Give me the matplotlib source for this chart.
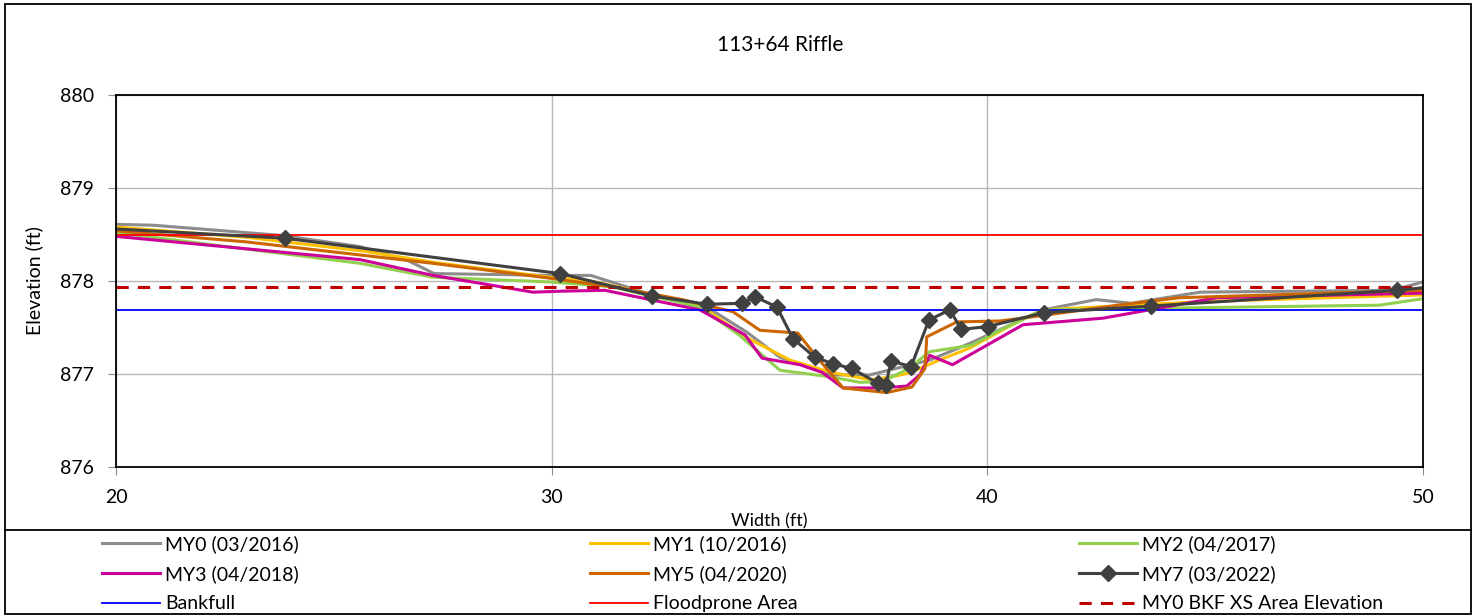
import matplotlib.pyplot as plt
from matplotlib.lines import Line2D
from matplotlib.patches import Rectangle

plt.rcParams['font.family'] = ['Lato', 'DejaVu Sans']

# survey data (station, elevation)
my0_x = [19, 20.85, 23.8, 25.6, 26.7, 27.3, 30.0, 30.9, 32.3, 33.56, 34.48, 35.24, 36.39, 37.3, 38.68, 39.6, 41.28, 42.5, 43.3, 44.88, 49.3, 50]
my0_y = [878.62, 878.60, 878.49, 878.37, 878.22, 878.08, 878.06, 878.06, 877.85, 877.72, 877.45, 877.18, 876.99, 876.99, 877.15, 877.33, 877.69, 877.80, 877.76, 877.88, 877.90, 877.99]

my1_x = [19, 20, 23, 25.7, 27.3, 29.96, 30.9, 33.4, 34.48, 35.47, 36.39, 37.3, 37.7, 38.2, 38.9, 39.6, 40.45, 40.9, 41.28, 45.0, 50]
my1_y = [878.60, 878.58, 878.47, 878.32, 878.20, 878.04, 878.00, 877.74, 877.39, 877.15, 877.02, 876.94, 876.96, 877.01, 877.15, 877.28, 877.50, 877.61, 877.69, 877.78, 877.85]

my2_x = [19, 20, 25.6, 27.28, 29.96, 31.34, 33.4, 34.3, 35.24, 36.39, 37.08, 37.6, 38.2, 38.68, 39.65, 40.29, 41.28, 49.0, 50]
my2_y = [878.54, 878.52, 878.19, 878.04, 877.99, 877.94, 877.72, 877.42, 877.04, 876.97, 876.91, 876.92, 877.06, 877.24, 877.31, 877.47, 877.69, 877.74, 877.81]

my3_x = [19, 20, 25.6, 27.28, 29.57, 30.19, 31.22, 33.4, 34.44, 34.83, 35.7, 36.2, 36.69, 37.53, 38.15, 38.45, 38.68, 39.2, 40.82, 42.65, 45.27, 50]
my3_y = [878.52, 878.48, 878.23, 878.06, 877.88, 877.89, 877.90, 877.69, 877.42, 877.17, 877.10, 877.02, 876.85, 876.85, 876.87, 876.99, 877.20, 877.10, 877.53, 877.60, 877.82, 877.87]

my5_x = [19, 20, 23, 25.6, 27.28, 29.96, 31.5, 33.0, 34.16, 34.78, 35.65, 36.09, 36.69, 37.69, 38.27, 38.57, 38.61, 39.3, 40.29, 41.28, 43.0, 44.4, 50]
my5_y = [878.56, 878.54, 878.42, 878.28, 878.19, 878.03, 877.93, 877.80, 877.67, 877.47, 877.44, 877.18, 876.85, 876.80, 876.86, 877.06, 877.40, 877.56, 877.57, 877.63, 877.74, 877.82, 877.90]

my7_x = [19, 23.88, 30.19, 32.30, 33.56, 34.37, 34.67, 35.17, 35.54, 36.04, 36.46, 36.89, 37.49, 37.67, 37.79, 38.25, 38.66, 39.14, 39.40, 40.01, 41.30, 43.75, 49.40, 50.5]
my7_y = [878.585, 878.46, 878.08, 877.84, 877.75, 877.76, 877.83, 877.72, 877.38, 877.18, 877.11, 877.06, 876.90, 876.88, 877.14, 877.08, 877.58, 877.69, 877.48, 877.51, 877.66, 877.73, 877.90, 877.95]

bankfull = 877.69
floodprone = 878.5
bkf_xs_area = 877.94

fig = plt.figure(figsize=(14.78, 6.16), dpi=100)
ax = fig.add_axes([116/1478, 1 - 467/616, (1423-116)/1478, (467-95)/616])

l0, = ax.plot(my0_x, my0_y, color='#8c8c8c', lw=2.2, label='MY0 (03/2016)')
l1, = ax.plot(my1_x, my1_y, color='#ffc000', lw=2.2, label='MY1 (10/2016)')
l2, = ax.plot(my2_x, my2_y, color='#92d050', lw=2.2, label='MY2 (04/2017)')
l3, = ax.plot(my3_x, my3_y, color='#cc0099', lw=2.2, label='MY3 (04/2018)')
l5, = ax.plot(my5_x, my5_y, color='#cc6600', lw=2.2, label='MY5 (04/2020)')
lb = ax.axhline(bankfull, color='#0000ff', lw=1.3, label='Bankfull')
lf = ax.axhline(floodprone, color='#ff0000', lw=1.3, label='Floodprone Area')
ld = ax.axhline(bkf_xs_area, color='#c00000', lw=2.2, dashes=(4, 3), label='MY0 BKF XS Area Elevation')
l7, = ax.plot(my7_x, my7_y, color='#404040', lw=2.2, marker='D', ms=8.5, label='MY7 (03/2022)')

ax.set_xlim(20, 50)
ax.set_ylim(876, 880)
ax.set_xticks([20, 30, 40, 50])
ax.set_yticks([876, 877, 878, 879, 880])
ax.grid(True, color='#b8b8b8', lw=1)
ax.set_axisbelow(True)
ax.tick_params(axis='y', direction='out', length=6, color='#8c8c8c', labelsize=14, pad=10)
ax.tick_params(axis='x', direction='out', length=6, color='#8c8c8c', labelsize=14, pad=10)
for s in ax.spines.values():
    s.set_color('black')
    s.set_linewidth(1.3)

ax.set_title('113+64 Riffle', fontsize=15, x=0.508, y=1.0, pad=32)
ax.set_xlabel('Width (ft)', fontsize=13, labelpad=5)
ax.set_ylabel('Elevation (ft)', fontsize=14, labelpad=12)

# outer frame and legend box
fig.patches.append(Rectangle((5/1478, 2/616), 1466/1478, 610/616, transform=fig.transFigure,
                             fill=False, edgecolor='black', lw=1.3))
fig.lines.append(Line2D([5/1478, 1471/1478], [1 - 530/616, 1 - 530/616], transform=fig.transFigure,
                        color='black', lw=1.3))

columns = [[l0, l3, lb], [l1, l5, lf], [l2, l7, ld]]
col_x = [102, 590, 1079]
for hs, x0 in zip(columns, col_x):
    fig.legend(handles=hs, loc='upper left', bbox_to_anchor=(x0/1478, 1 - 535/616),
               frameon=False, fontsize=14, handlelength=3.0, handletextpad=0.25,
               labelspacing=0.63, borderaxespad=0, borderpad=0)

fig.savefig('out.png', dpi=100)
